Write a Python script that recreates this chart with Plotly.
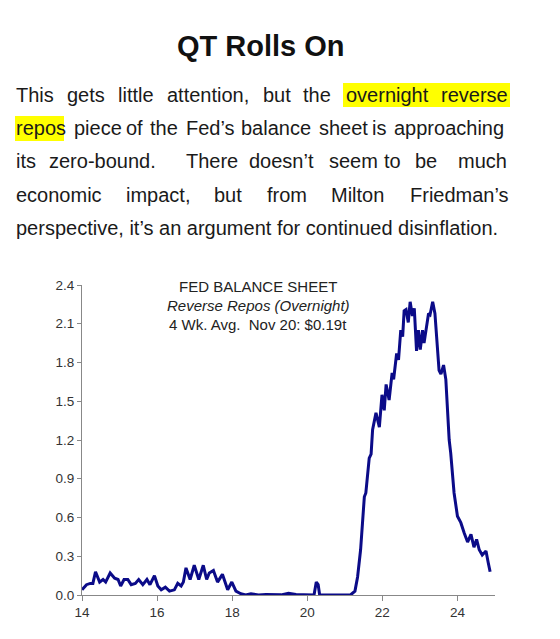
import plotly.graph_objects as go

# Overnight reverse repos, 4-wk avg ($ trillions), x = year (14 = 2014)
years = [14.00, 14.12, 14.22, 14.29, 14.36, 14.47, 14.56, 14.63, 14.75, 14.87,
         14.96, 15.03, 15.12, 15.22, 15.31, 15.42, 15.51, 15.62, 15.73, 15.81,
         15.93, 16.02, 16.11, 16.22, 16.33, 16.46, 16.55, 16.64, 16.70, 16.77,
         16.88, 16.99, 17.11, 17.23, 17.32, 17.39, 17.50, 17.61, 17.74, 17.88,
         17.99, 18.10, 18.23, 18.36, 18.50, 18.70, 18.90, 19.10, 19.30, 19.50,
         19.70, 19.90, 20.10, 20.18, 20.24, 20.29, 20.33, 20.60, 21.00, 21.15,
         21.27, 21.34, 21.42, 21.52, 21.56, 21.65, 21.70, 21.74, 21.83, 21.92,
         21.99, 22.05, 22.10, 22.18, 22.26, 22.30, 22.38, 22.43, 22.49, 22.54,
         22.58, 22.63, 22.69, 22.74, 22.80, 22.85, 22.91, 22.96, 23.01, 23.07,
         23.11, 23.18, 23.23, 23.27, 23.34, 23.40, 23.47, 23.51, 23.56, 23.63,
         23.69, 23.78, 23.82, 23.91, 24.00, 24.09, 24.18, 24.27, 24.36, 24.44,
         24.51, 24.58, 24.66, 24.76, 24.82, 24.87]
rrp = [0.04, 0.08, 0.09, 0.09, 0.18, 0.10, 0.12, 0.10, 0.17, 0.13,
       0.12, 0.07, 0.12, 0.12, 0.08, 0.09, 0.12, 0.08, 0.12, 0.08,
       0.15, 0.07, 0.04, 0.06, 0.03, 0.04, 0.09, 0.07, 0.10, 0.21,
       0.12, 0.23, 0.12, 0.23, 0.12, 0.17, 0.19, 0.10, 0.16, 0.04,
       0.10, 0.03, 0.01, 0.00, 0.01, 0.00, 0.004, 0.002, 0.001, 0.013,
       0.004, 0.002, 0.003, 0.00, 0.10, 0.08, 0.00, 0.00, 0.00, 0.00,
       0.03, 0.14, 0.35, 0.76, 0.79, 1.06, 1.09, 1.28, 1.41, 1.30,
       1.55, 1.43, 1.63, 1.51, 1.72, 1.67, 1.87, 1.82, 2.05, 2.00,
       2.20, 2.21, 2.11, 2.27, 2.16, 2.22, 1.89, 2.05, 1.90, 2.05,
       1.95, 2.07, 2.18, 2.17, 2.27, 2.18, 1.90, 1.74, 1.71, 1.78,
       1.67, 1.20, 1.10, 0.79, 0.61, 0.56, 0.48, 0.41, 0.47, 0.37,
       0.43, 0.35, 0.31, 0.34, 0.25, 0.18]

x_ticks = [14, 16, 18, 20, 22, 24]
y_ticks = [0.0, 0.3, 0.6, 0.9, 1.2, 1.5, 1.8, 2.1, 2.4]

title_text = "QT Rolls On"
# justified paragraph: words per line with left edge (px in the page)
para_lines = [
    [("This", 15), ("gets", 66), ("little", 117), ("attention,", 166), ("but", 262),
     ("the", 302), ("overnight", 345), ("reverse", 440)],
    [("repos", 15), ("piece", 73), ("of", 125), ("the", 149), ("Fed’s", 185),
     ("balance", 240), ("sheet", 318), ("is", 371), ("approaching", 393)],
    [("its", 15), ("zero-bound.", 48), ("There", 185), ("doesn’t", 248), ("seem", 328),
     ("to", 383), ("be", 414), ("much", 457)],
    [("economic", 15), ("impact,", 125), ("but", 213), ("from", 266), ("Milton", 330),
     ("Friedman’s", 409)],
    [("perspective, it’s an argument for continued disinflation.", 15)],
]
line_y = [95, 128, 161, 194.5, 228]

# page is 560x639 but the html body adds an 8px margin
OFF = 8
PAD = 1  # annotation text padding
W, H = 560 - OFF, 639 - OFF
L, R, T, B = 82 - OFF, 65, 285 - OFF, 44
pw, ph = W - L - R, H - T - B


def px(x):
    return (x - OFF - L) / pw


def py(y):
    return (H - B - (y - OFF)) / ph


fig = go.Figure()
fig.add_trace(go.Scatter(x=years, y=rrp, mode="lines",
                         line=dict(color="#0b0b88", width=3), hoverinfo="skip"))

annotations = [dict(text=f"<b>{title_text}</b>", x=px(261), y=py(46), xref="paper", yref="paper",
                    showarrow=False, xanchor="center", yanchor="middle",
                    font=dict(size=29, color="#111", family="Liberation Sans"))]
for words, yy in zip(para_lines, line_y):
    for w, xx in words:
        annotations.append(dict(text=w, x=px(xx - PAD), y=py(yy), xref="paper", yref="paper",
                                showarrow=False, xanchor="left", yanchor="middle",
                                font=dict(size=20, color="#1a1a1a", family="Liberation Sans")))

chart_labels = [("FED BALANCE SHEET", 286), ("<i>Reverse Repos (Overnight)</i>", 305),
                ("4 Wk. Avg.  Nov 20: $0.19t", 324)]
for t, yy in chart_labels:
    annotations.append(dict(text=t, x=px(258), y=py(yy), xref="paper", yref="paper",
                            showarrow=False, xanchor="center", yanchor="middle",
                            font=dict(size=15, color="#222", family="Liberation Sans")))

shapes = [
    dict(type="rect", xref="paper", yref="paper", x0=px(343), x1=px(510), y0=py(107), y1=py(83),
         fillcolor="#ffff00", line=dict(width=0), layer="below"),
    dict(type="rect", xref="paper", yref="paper", x0=px(15), x1=px(64), y0=py(141), y1=py(116),
         fillcolor="#ffff00", line=dict(width=0), layer="below"),
]

axis_font = dict(size=13.5, color="#333", family="Liberation Sans")
fig.update_layout(
    width=W, height=H,
    margin=dict(l=L, r=R, t=T, b=B),
    paper_bgcolor="white", plot_bgcolor="white",
    showlegend=False,
    annotations=annotations, shapes=shapes,
    xaxis=dict(range=[14, 25], tickvals=x_ticks, ticktext=[str(v) for v in x_ticks],
               showgrid=False, zeroline=False, showline=True, linecolor="#888", linewidth=1,
               ticks="outside", ticklen=5, tickcolor="#888", tickfont=axis_font),
    yaxis=dict(range=[0, 2.4], tickvals=y_ticks, tickformat=".1f",
               showgrid=False, zeroline=False, showline=True, linecolor="#888", linewidth=1,
               ticks="outside", ticklen=4, tickcolor="#888", tickfont=axis_font),
)

fig.write_html("out.html")
